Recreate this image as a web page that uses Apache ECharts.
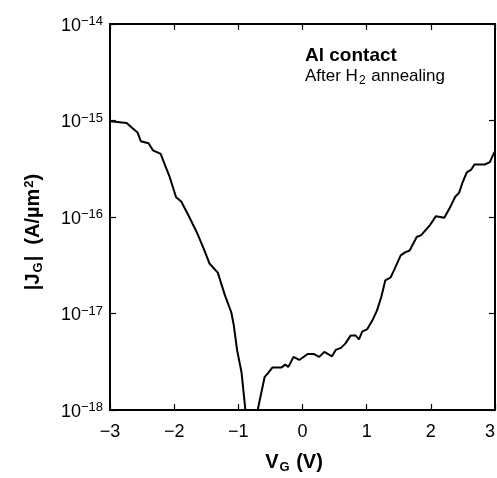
<!DOCTYPE html>
<html>
<head>
<meta charset="utf-8">
<script src="https://cdn.jsdelivr.net/npm/echarts@6/dist/echarts.min.js"></script>
<style>
html,body{margin:0;padding:0;background:#fff;}
#chart{width:497px;height:478px;}
</style>
</head>
<body>
<div id="chart"></div>
<script>
// Gate voltage V_G (V)
const vg = [-3.00, -2.74, -2.64, -2.57, -2.52, -2.40, -2.33, -2.21, -2.14, -2.07, -1.97, -1.89, -1.78, -1.65, -1.54,
  -1.45, -1.32, -1.21, -1.11, -1.07, -1.02, -0.95, -0.87, -0.74, -0.59, -0.54, -0.47, -0.33, -0.27, -0.22,
  -0.14, -0.05, 0.08, 0.18, 0.26, 0.34, 0.46, 0.52, 0.60, 0.67, 0.75, 0.83, 0.88, 0.93, 1.01,
  1.09, 1.16, 1.23, 1.29, 1.37, 1.42, 1.53, 1.60, 1.67, 1.78, 1.85, 1.99, 2.08, 2.21, 2.30,
  2.38, 2.44, 2.49, 2.56, 2.63, 2.68, 2.84, 2.92, 2.97, 3.00];
// |J_G| (A/um^2)
const jg = [9.8e-16, 9.4e-16, 8.2e-16, 7.5e-16, 6.1e-16, 5.8e-16, 4.9e-16, 4.5e-16, 3.4e-16, 2.6e-16, 1.6e-16, 1.45e-16, 1.05e-16, 7.0e-17, 4.7e-17,
  3.3e-17, 2.65e-17, 1.55e-17, 1.03e-17, 7.5e-18, 4.2e-18, 2.45e-18, 7.4e-19, 7.4e-19, 2.2e-18, 2.4e-18, 2.75e-18, 2.75e-18, 2.95e-18, 2.8e-18,
  3.55e-18, 3.3e-18, 3.8e-18, 3.8e-18, 3.55e-18, 4.0e-18, 3.6e-18, 4.2e-18, 4.4e-18, 4.9e-18, 5.9e-18, 5.9e-18, 5.4e-18, 6.5e-18, 6.9e-18,
  8.5e-18, 1.07e-17, 1.5e-17, 2.2e-17, 2.35e-17, 2.75e-17, 4.0e-17, 4.3e-17, 4.5e-17, 6.2e-17, 6.5e-17, 8.3e-17, 1.02e-16, 9.8e-17, 1.26e-16,
  1.62e-16, 1.78e-16, 2.24e-16, 2.9e-16, 3.1e-16, 3.5e-16, 3.5e-16, 3.7e-16, 4.4e-16, 4.8e-16];

const xTicks = [-3, -2, -1, 0, 1, 2, 3];
const yMin = 1e-18, yMax = 1e-14;
const noteTitle = 'Al contact';

const FONT = '"Liberation Sans", Arial, sans-serif';
const chart = echarts.init(document.getElementById('chart'));

const pts = vg.map((v, i) => [v, jg[i]]);

function fmtX(v) { return v < 0 ? '\u2212' + Math.abs(v) : String(v); }
function fmtY(v) {
  const e = Math.round(Math.log10(v));
  return '{b|10}{s|' + (e < 0 ? '\u2212' + Math.abs(e) : e) + '}';
}

const axisLineStyle = { color: '#000', width: 2 };
const tickStyle = { show: true, inside: true, length: 6, lineStyle: { color: '#000', width: 1.2 } };

chart.setOption({
  animation: false,
  backgroundColor: '#fff',
  grid: { left: 110, right: 2, top: 24, bottom: 68, containLabel: false, outerBoundsMode: 'none' },
  xAxis: [
    {
      type: 'value', min: xTicks[0], max: xTicks[xTicks.length - 1], interval: 1, position: 'bottom',
      axisLine: { show: true, onZero: false, lineStyle: axisLineStyle },
      axisTick: tickStyle, splitLine: { show: false },
      axisLabel: { formatter: fmtX, fontFamily: FONT, fontSize: 18, color: '#000', margin: 13, alignMaxLabel: 'right' }
    },
    {
      type: 'value', min: xTicks[0], max: xTicks[xTicks.length - 1], interval: 1, position: 'top',
      axisLine: { show: true, onZero: false, lineStyle: axisLineStyle },
      axisTick: tickStyle, splitLine: { show: false }, axisLabel: { show: false }
    }
  ],
  yAxis: [
    {
      type: 'log', logBase: 10, min: yMin, max: yMax, position: 'left',
      axisLine: { show: true, onZero: false, lineStyle: axisLineStyle },
      axisTick: tickStyle, minorTick: { show: false }, splitLine: { show: false },
      axisLabel: {
        formatter: fmtY, margin: 7, color: '#000',
        rich: {
          b: { fontFamily: FONT, fontSize: 18, color: '#000', verticalAlign: 'bottom', lineHeight: 22 },
          s: { fontFamily: FONT, fontSize: 13, color: '#000', verticalAlign: 'top', lineHeight: 13, padding: [2, 0, 0, 0] }
        }
      }
    },
    {
      type: 'log', logBase: 10, min: yMin, max: yMax, position: 'right',
      axisLine: { show: true, onZero: false, lineStyle: axisLineStyle },
      axisTick: tickStyle, splitLine: { show: false }, axisLabel: { show: false }
    }
  ],
  series: [{
    type: 'line', data: pts, xAxisIndex: 0, yAxisIndex: 0,
    showSymbol: false, symbol: 'none', clip: true,
    lineStyle: { color: '#000', width: 2 }
  }],
  graphic: [
    {
      type: 'text', left: 305, top: 46,
      style: { text: noteTitle, fontFamily: FONT, fontSize: 19, fontWeight: 'bold', fill: '#000' }
    },
    {
      type: 'text', left: 305, top: 68,
      style: {
        text: '{a|After H}{u|2}{a| annealing}',
        rich: {
          a: { fontFamily: FONT, fontSize: 17, fill: '#000', verticalAlign: 'top', lineHeight: 19 },
          u: { fontFamily: FONT, fontSize: 12, fill: '#000', verticalAlign: 'bottom', lineHeight: 12, padding: [6, 1, 0, 1] }
        }
      }
    },
    {
      type: 'text', x: 294, y: 463,
      style: {
        text: '{a|V}{u|G}{a| (V)}', align: 'center', verticalAlign: 'middle',
        rich: {
          a: { fontFamily: FONT, fontSize: 20, fontWeight: 'bold', fill: '#000', lineHeight: 22, verticalAlign: 'top' },
          u: { fontFamily: FONT, fontSize: 13, fontWeight: 'bold', fill: '#000', lineHeight: 13, verticalAlign: 'bottom', padding: [8, 1, 0, 1] }
        }
      }
    },
    {
      type: 'text', x: 34, y: 232, rotation: Math.PI / 2,
      style: {
        text: '{a||J}{u|G}{a||  (A/µm}{p|2}{a|)}', align: 'center', verticalAlign: 'middle',
        rich: {
          a: { fontFamily: FONT, fontSize: 20, fontWeight: 'bold', fill: '#000', lineHeight: 22, verticalAlign: 'top' },
          u: { fontFamily: FONT, fontSize: 13, fontWeight: 'bold', fill: '#000', lineHeight: 13, verticalAlign: 'bottom', padding: [8, 1, 0, 1] },
          p: { fontFamily: FONT, fontSize: 13, fontWeight: 'bold', fill: '#000', lineHeight: 13, verticalAlign: 'top', padding: [0, 0, 8, 1] }
        }
      }
    }
  ]
});
</script>
</body>
</html>
